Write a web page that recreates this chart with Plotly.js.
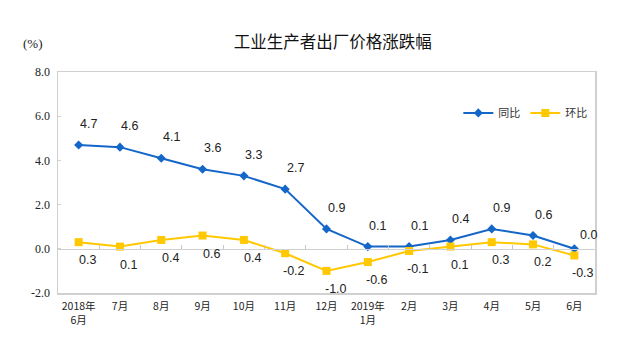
<!DOCTYPE html>
<html><head><meta charset="utf-8">
<script src="https://cdn.plot.ly/plotly-3.0.1.min.js"></script>
<style>html,body{margin:0;padding:0;background:#fff}#c{width:640px;height:346px}</style>
</head><body><div id="c"></div>
<script>
const categories = ["2018年<br>6月","7月","8月","9月","10月","11月","12月","2019年<br>1月","2月","3月","4月","5月","6月"];
const yoy = [4.7,4.6,4.1,3.6,3.3,2.7,0.9,0.1,0.1,0.4,0.9,0.6,0.0];
const mom = [0.3,0.1,0.4,0.6,0.4,-0.2,-1.0,-0.6,-0.1,0.1,0.3,0.2,-0.3];
const yTicks = [-2,0,2,4,6,8];

const blue = "#1466C8", gold = "#FFC800";
const numFont = {family:"Liberation Sans, Arial", size:12.5, color:"#222"};

const traces = [
  {x:categories, y:yoy, name:"同比", type:"scatter", mode:"lines+markers",
   line:{color:blue,width:2}, marker:{symbol:"diamond",size:7,color:blue}},
  {x:categories, y:mom, name:"环比", type:"scatter", mode:"lines+markers",
   line:{color:gold,width:2}, marker:{symbol:"square",size:8,color:gold}},
  {x:categories, y:mom, xaxis:"x2", type:"scatter", mode:"markers", opacity:0,
   showlegend:false, hoverinfo:"skip"}
];

const annotations = [];
yoy.forEach((v,i)=>{
  const last = i===yoy.length-1;
  annotations.push({x:categories[i], y:v, text:v.toFixed(1), showarrow:false,
    xshift: last?14:10, yshift: last?14:21, font:numFont});
});
mom.forEach((v,i)=>{
  annotations.push({x:categories[i], y:v, text:v.toFixed(1), showarrow:false,
    xshift:9, yshift:-18, font:numFont});
});
annotations.push({xref:"paper", yref:"paper", x:-0.047, xanchor:"center", y:1.13, yanchor:"middle", text:"(%)", showarrow:false,
  font:{family:"Liberation Serif, Times New Roman", size:13, color:"#222"}});

const layout = {
  width:640, height:346,
  margin:{l:58, r:45, t:72, b:53},
  paper_bgcolor:"#fff", plot_bgcolor:"#fff",
  title:{text:"工业生产者出厂价格涨跌幅", x:0.52, xref:"container", xanchor:"center",
    y:1-42/346, yref:"container", yanchor:"middle",
    font:{family:"Noto Sans CJK SC", size:16.5, color:"#111"}},
  showlegend:true,
  legend:{orientation:"h", x:0.995, xanchor:"right", y:0.815, yanchor:"middle",
    font:{family:"Noto Sans CJK SC", size:11, color:"#333"}, bgcolor:"rgba(0,0,0,0)"},
  xaxis:{type:"category", range:[-0.5,12.5], showgrid:false, zeroline:false,
    showline:true, linecolor:"#d0d0d0", linewidth:1.5, mirror:true, ticks:"",
    ticklabelstandoff:3,
    tickfont:{family:"Noto Sans CJK SC", size:10.5, color:"#222"}},
  xaxis2:{type:"category", overlaying:"x", anchor:"free", position:0.2, range:[-0.5,12.5],
    showgrid:false, zeroline:false, showline:true, linecolor:"#d0d0d0", linewidth:1.5,
    ticks:"inside", tickson:"boundaries", ticklen:4, tickcolor:"#c8c8c8", showticklabels:false},
  yaxis:{range:[-2,8], tickvals:yTicks, ticktext:yTicks.map(v=>v.toFixed(1)), showgrid:false,
    zeroline:false, showline:true, linecolor:"#d0d0d0", linewidth:1.5, mirror:true,
    ticks:"inside", ticklen:3, tickcolor:"#d0d0d0", ticklabelstandoff:4,
    tickfont:{family:"Liberation Serif, Times New Roman", size:12, color:"#222"}},
  annotations:annotations
};
Plotly.newPlot("c", traces, layout, {displayModeBar:false, staticPlot:true});
</script></body></html>
